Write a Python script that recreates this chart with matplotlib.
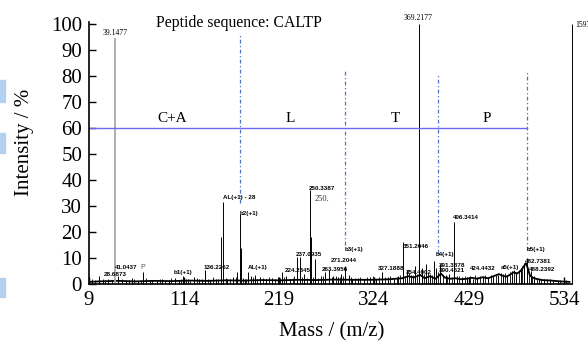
import matplotlib
matplotlib.use("Agg")
import matplotlib.pyplot as plt
from matplotlib.patches import Rectangle

plt.rcParams['font.family'] = ['Liberation Serif', 'DejaVu Serif']

# peak sticks (m/z, relative intensity %)
peak_mz = [20, 30, 41, 50, 56, 63, 69, 76, 84, 90, 97, 104, 108, 113, 118, 125,
           131, 137, 143, 149, 155, 157, 162, 168, 173, 176, 177, 181, 185, 188,
           192, 198, 205, 211, 218, 222, 227, 231, 239, 242, 247, 253, 254, 259,
           265, 270, 274, 279, 284, 288, 292, 296, 300, 306, 313, 320, 326, 333,
           339, 346, 351, 356, 360, 365, 369, 374, 377, 381, 386, 390, 393, 397,
           403, 407, 412, 416, 421, 427, 433, 438, 444, 450, 456, 461, 466, 471,
           476, 481, 486, 490, 493, 497, 501, 506, 512, 519, 527, 543]
peak_int = [3, 2, 3, 1.5, 2.2, 1.2, 4.5, 1.5, 1.3, 2, 1.4, 2.2, 1.6, 3, 2, 2.5,
            1.8, 5.5, 1.5, 2, 18, 31.5, 2, 2.5, 4.5, 27, 14, 2, 4.5, 3,
            3.5, 2.5, 2, 2.3, 2.6, 4.5, 3, 2, 10.5, 10.5, 4, 36, 18, 9.5,
            3, 4.5, 5.5, 3, 2.5, 4, 7, 3.5, 2, 2.2, 2, 2.5, 2, 4.5,
            2.5, 2, 3, 16, 5.5, 3.5, 7, 100, 6, 7.5, 4, 9, 6, 7.5,
            3.5, 4, 24, 3, 2.5, 2.5, 2, 2.5, 3, 2.5, 3, 3.5, 4, 3.5,
            5, 4.5, 6, 8, 10, 5, 3, 2, 1.8, 2, 1.5, 100]

# low noise sticks along the baseline
noise_mz = [12, 16, 24, 27, 34, 45, 53, 59, 66, 72, 79, 87, 93, 100, 111, 116,
            121, 128, 134, 140, 146, 152, 160, 165, 171, 179, 183, 190, 195,
            201, 208, 214, 220, 225, 234, 236, 244, 250, 257, 262, 268, 277,
            282, 286, 290, 298, 303, 309, 316, 323, 330, 336, 342, 349, 353,
            358, 363, 367, 371, 379, 384, 388, 395, 400, 405, 410, 418, 424,
            430, 436, 441, 447, 453, 459, 464, 469, 474, 479, 484, 488, 495,
            499, 504, 509, 515, 522, 530, 536]
noise_int = [1.8, 1.5, 2.0, 1.6, 1.7, 2.1, 1.6, 1.9, 1.5, 2.2, 1.7, 1.9, 1.6,
             2.3, 1.8, 2.0, 1.7, 2.4, 1.9, 2.1, 2.6, 1.8, 2.3, 2.0, 2.5, 2.2,
             1.9, 2.7, 2.1, 2.3, 2.6, 2.0, 2.4, 2.8, 2.2, 3.0, 2.5, 2.3, 2.7,
             2.4, 3.1, 2.6, 2.9, 2.5, 3.2, 2.7, 2.4, 2.8, 2.6, 3.0, 2.7, 2.5,
             3.0, 2.8, 3.3, 3.0, 4.2, 3.6, 4.0, 3.8, 4.4, 3.5, 4.8, 3.4, 3.0,
             2.8, 3.2, 2.9, 3.1, 3.4, 3.0, 3.3, 3.6, 3.9, 4.3, 4.1, 4.6, 5.2,
             5.5, 6.8, 4.5, 3.2, 2.4, 2.1, 1.9, 1.7, 1.5, 1.4]

# the one gray peak
gray_mz = [38]
gray_int = [94.6]

# baseline profile
base_mz = [9, 20, 40, 60, 80, 100, 120, 140, 160, 180, 200, 220, 240, 260, 280,
           300, 320, 340, 355, 362, 368, 375, 380, 386, 392, 398, 402, 408, 414,
           420, 426, 432, 438, 444, 450, 456, 462, 466, 470, 474, 478, 482, 486,
           489, 492, 494, 496, 499, 503, 510, 520, 530, 540]
base_int = [0.8, 1.0, 1.2, 1.0, 1.2, 1.1, 1.3, 1.2, 1.4, 1.3, 1.5, 1.4, 1.6, 1.5,
            1.7, 1.6, 1.6, 1.8, 2.2, 3.0, 2.5, 3.5, 2.2, 3.0, 2.0, 4.0, 2.5, 2.0,
            2.2, 1.8, 2.0, 2.4, 2.0, 2.6, 2.2, 3.0, 3.8, 3.2, 2.8, 3.5, 4.5, 4.0,
            5.0, 6.5, 8.0, 6.0, 3.5, 2.5, 2.0, 1.5, 1.3, 1.0, 0.8]

# small bold annotations (text, m/z, intensity)
ann_text = ["28.6873", "41.0437", "b1(+1)", "136.2262", "AL(+1) - 28", "b2(+1)",
            "AL(+1)", "224.2345", "237.0935", "250.3387", "263.3956", "271.2044",
            "b3(+1)", "327.1888", "351.2046", "354.4902", "b4(+1)", "391.3878",
            "390.4521", "406.3414", "424.4432", "a5(+1)", "b5(+1)", "482.7381",
            "488.2392"]
ann_mz = [37.7, 50.4, 113.4, 150.5, 174.8, 185.8, 195.8, 240, 251.6, 267, 280.3,
          290.8, 301.9, 343.4, 369.9, 373.7, 402.5, 410.2, 409.7, 425.1, 443.9,
          474.3, 503, 505.8, 510.2]
ann_int = [3.8, 6.2, 4.6, 6.2, 33.1, 27.3, 6.2, 5, 11.5, 36.7, 5.4, 9.2, 13.1,
           5.8, 14.6, 4.6, 11.2, 7.3, 5, 25.4, 5.8, 6.5, 13.1, 8.5, 5.4]

# residue boundaries
cut_mz = [176, 292, 395, 493]
cut_lo = [31, 15, 12, 13]
cut_hi = [96.5, 82.3, 80.4, 81.5]
residues = ["C+A", "L", "T", "P"]
residue_mz = [101, 231, 348, 449]

xticks = [9, 114, 219, 324, 429, 534]
yticks = [0, 10, 20, 30, 40, 50, 60, 70, 80, 90, 100]

fig = plt.figure(figsize=(5.88, 3.41), dpi=100)
ax = fig.add_axes([0.1514, 0.1672, 0.8214, 0.7683])

ax.plot(base_mz, base_int, color='black', lw=1.3)
ax.vlines(noise_mz, 0, noise_int, color='black', lw=0.6)
ax.vlines(peak_mz, 0, peak_int, color='black', lw=0.7, clip_on=False)
ax.vlines(gray_mz, 0, gray_int, color='#a8a8a8', lw=1.3)

ax.vlines(cut_mz, cut_lo, cut_hi, color='#4a74c8', lw=0.9,
          linestyles=[(0, (3, 2, 1, 2))])
ax.plot([9, cut_mz[-1]], [60, 60], color='#6a6af5', lw=1.0)
for t, m in zip(residues, residue_mz):
    ax.text(m, 61, t, ha='center', va='bottom', fontsize=11)

for t, m, v in zip(ann_text, ann_mz, ann_int):
    ax.text(m, v, t, ha='center', va='center', fontsize=4.5,
            fontweight='bold', family=['Liberation Sans', 'DejaVu Sans'])
ax.text(68.7, 6.2, "P", ha='center', va='center', fontsize=5, color='#555555',
        family=['Liberation Sans', 'DejaVu Sans'])
ax.text(267, 32.7, "250.", ha='center', va='center', fontsize=6, color='#333333')
ax.text(38.3, 96.5, "39.1477", ha='center', va='center', fontsize=5.5)
ax.text(372.6, 102.3, "369.2177", ha='center', va='center', fontsize=5.5,
        clip_on=False)
ax.text(546.2, 99.6, "1597", ha='left', va='center', fontsize=5.5, clip_on=False)

ax.set_xlim(9, 542.8)
ax.set_ylim(0, 100.8)
ax.set_xticks(xticks)
ax.set_yticks(yticks)
ax.tick_params(direction='in', length=5, width=1, labelsize=15, pad=5)
for s in ['top', 'right']:
    ax.spines[s].set_visible(False)
for s in ['left', 'bottom']:
    ax.spines[s].set_linewidth(1.2)

ax.set_xlabel("Mass / (m/z)", fontsize=15)
ax.set_ylabel("Intensity / %", fontsize=15)
ax.xaxis.set_label_coords(0.503, -0.145)
ax.yaxis.set_label_coords(-0.114, 0.542)

fig.text(0.406, 0.921, "Peptide sequence: CALTP", ha='center', va='baseline',
         fontsize=11.3)

# light blue marks at the left edge of the source image
for y0, y1 in [(80, 102), (133, 153), (278, 297)]:
    fig.patches.append(Rectangle((0, 1 - y1 / 341), 5 / 588, (y1 - y0) / 341,
                                 transform=fig.transFigure, color='#b4d0f0'))

fig.savefig('out.png', dpi=100)
